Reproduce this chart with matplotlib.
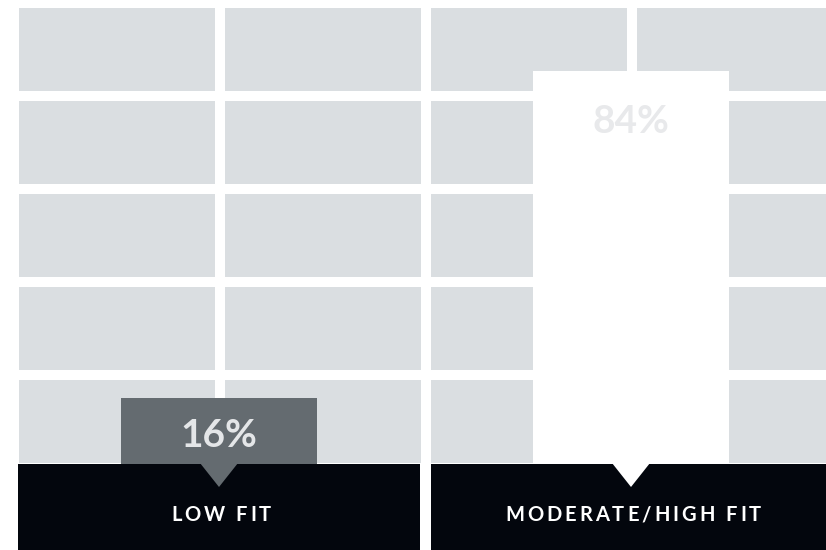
import matplotlib
matplotlib.use("Agg")
import matplotlib.pyplot as plt
from matplotlib.patches import Rectangle, Polygon

# fit groups and their shares
categories = ["LOW FIT", "MODERATE/HIGH FIT"]
shares = [16, 84]
share_labels = ["16%", "84%"]

W, H = 826, 550
TILE = "#dadee1"
BAR_COLORS = ["#646b70", "#ffffff"]
VALUE_COLORS = ["#e4e6e8", "#e8e9eb"]
BAND = "#03060d"
FONT = "Lato"

fig = plt.figure(figsize=(W / 100, H / 100), dpi=100)
fig.patch.set_facecolor("white")

# background tile grid, in pixel coordinates
ax_bg = fig.add_axes([0, 0, 1, 1], zorder=0)
ax_bg.set_xlim(0, W)
ax_bg.set_ylim(H, 0)
ax_bg.axis("off")
for x0 in [19, 225, 431, 637]:
    for y0 in [8, 101, 194, 287, 380]:
        ax_bg.add_patch(Rectangle((x0, y0), 196, 83, facecolor=TILE, lw=0))

# bars on a 0-100 percent scale, baseline hidden under the label band
ax = fig.add_axes([13 / W, 75 / H, 824 / W, 481 / H], zorder=1)
ax.patch.set_alpha(0)
ax.set_xlim(-0.5, 1.5)
ax.set_ylim(0, 100)
ax.axis("off")
pos = list(range(len(categories)))
bars = ax.bar(pos, shares, width=196 / 412, color=BAR_COLORS, lw=0, clip_on=False)
for b, lab, col, off in zip(bars, share_labels, VALUE_COLORS, [-49, -62]):
    ax.annotate(lab, (b.get_x() + b.get_width() / 2, b.get_height()),
                xytext=(0, off), textcoords="offset pixels",
                ha="center", va="baseline", color=col,
                fontsize=28, fontweight="bold", family=FONT)

# dark label band with pointers
ax_fg = fig.add_axes([0, 0, 1, 1], zorder=2)
ax_fg.patch.set_alpha(0)
ax_fg.set_xlim(0, W)
ax_fg.set_ylim(H, 0)
ax_fg.axis("off")
ax_fg.add_patch(Rectangle((18, 464), 402, 90, facecolor=BAND, lw=0))
ax_fg.add_patch(Rectangle((431, 464), 400, 90, facecolor=BAND, lw=0))

renderer = fig.canvas.get_renderer()


def tracked_text(axis, x, y, s, spacing, **kw):
    # draw text letter by letter with extra tracking, centred on x
    parts = [axis.text(0, y, ch, ha="left", va="baseline", **kw) for ch in s]
    widths = []
    for t in parts:
        bb = t.get_window_extent(renderer)
        widths.append(bb.width)
    total = sum(widths) + spacing * (len(s) - 1)
    cx = x - total / 2
    for t, w in zip(parts, widths):
        t.set_x(cx)
        cx += w + spacing


for b, cat, col in zip(bars, categories, BAR_COLORS):
    cx_disp = ax.transData.transform((b.get_x() + b.get_width() / 2, 0))[0]
    cx = cx_disp / fig.dpi * 100
    ax_fg.add_patch(Polygon([(cx - 19, 463), (cx + 19, 463), (cx, 487)],
                            closed=True, facecolor=col, lw=0))
    tracked_text(ax_fg, cx + 2, 521, cat, 3.0, color="white",
                 fontsize=14.5, fontweight="bold", family=FONT)

fig.savefig("out.png", dpi=100)
